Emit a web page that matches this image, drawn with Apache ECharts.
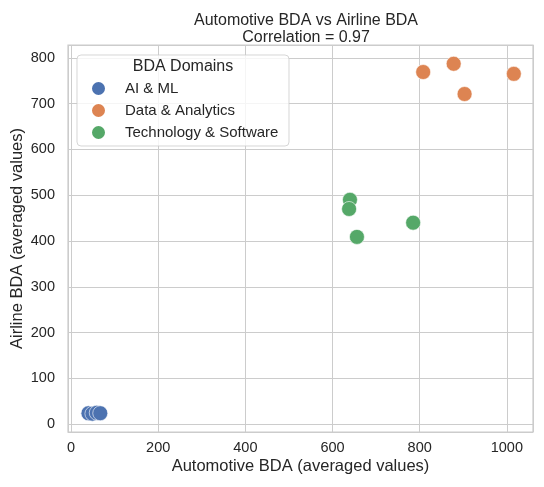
<!DOCTYPE html>
<html>
<head>
<meta charset="utf-8">
<title>Automotive BDA vs Airline BDA</title>
<script src="https://cdn.jsdelivr.net/npm/echarts@6/dist/echarts.min.js"></script>
<style>
	html,body{margin:0;padding:0;background:#fff;}
	#chart{width:544px;height:487px;}
</style>
</head>
<body>
<div id="chart"></div>
<script>
	// domains
	var domains = ['AI & ML', 'Data & Analytics', 'Technology & Software'];
	var colors = ['#4C72B0', '#DD8452', '#55A868'];

	// automotive (x) / airline (y) per domain
	var aiX = [40, 49, 59, 67];
	var aiY = [24, 23, 25, 24];
	var dataX = [808, 878, 903, 1016];
	var dataY = [769, 787, 721, 765];
	var techX = [640, 638, 785, 656];
	var techY = [490, 470, 440, 409];

	var xTicks = [0, 200, 400, 600, 800, 1000];
	var yTicks = [0, 100, 200, 300, 400, 500, 600, 700, 800];

	function pairs(xs, ys){
		var out = [];
		for(var i=0;i<xs.length;i++){
			out.push([xs[i], ys[i]]);
		}
		return out;
	}

	var font = 'Liberation Sans, Arial, sans-serif';
	var txt = '#262626';

	var seriesX = [aiX, dataX, techX];
	var seriesY = [aiY, dataY, techY];
	var seriesData = [];
	for(var s=0;s<domains.length;s++){
		seriesData.push({
			name: domains[s],
			type: 'scatter',
			symbolSize: 15,
			data: pairs(seriesX[s], seriesY[s]),
			itemStyle: {color: colors[s], opacity: 1, borderColor: '#fff', borderWidth: 0.6},
			z: 3
		});
	}

	var myChart = echarts.init(document.getElementById('chart'));
	var option = {
		backgroundColor: '#fff',
		animation: false,
		title: {
			text: 'Automotive BDA vs Airline BDA\nCorrelation = 0.97',
			left: 301,
			top: 7,
			textAlign: 'center',
			textStyle: {fontFamily: font, fontSize: 16, fontWeight: 'normal', color: txt, lineHeight: 17}
		},
		grid: {
			left: 68, right: 11, top: 45, bottom: 55,
			outerBoundsMode: 'none',
			containLabel: false,
			show: true, borderColor: '#cccccc', borderWidth: 1.25, backgroundColor: '#fff'
		},
		legend: {
			data: domains,
			orient: 'vertical',
			left: 90,
			top: 80,
			padding: 0,
			itemWidth: 43,
			itemHeight: 15,
			itemGap: 5,
			icon: 'circle',
			textStyle: {fontFamily: font, fontSize: 15, color: txt},
			z: 10
		},
		graphic: [
			{
				type: 'rect',
				shape: {x: 77, y: 55, width: 212, height: 91, r: 4},
				style: {fill: 'rgba(255,255,255,0.8)', stroke: 'rgba(204,204,204,0.8)', lineWidth: 1},
				z: 5
			},
			{
				type: 'text',
				x: 183, y: 67,
				style: {text: 'BDA Domains', font: '16px ' + font, fill: txt, align: 'center', verticalAlign: 'middle'},
				z: 6
			}
		],
		xAxis: {
			type: 'value',
			min: -7, max: 1060,
			minInterval: 200, maxInterval: 200,
			name: 'Automotive BDA (averaged values)',
			nameLocation: 'middle',
			nameGap: 26,
			nameMoveOverlap: false,
			nameTextStyle: {fontFamily: font, fontSize: 16.5, color: txt},
			axisLine: {show: false},
			axisTick: {show: false},
			axisLabel: {
				margin: 8, fontFamily: font, fontSize: 14.5, color: txt,
				formatter: function(v){ return xTicks.indexOf(v) >= 0 ? String(v) : ''; }
			},
			splitLine: {show: true, lineStyle: {color: '#cccccc', width: 1}}
		},
		yAxis: {
			type: 'value',
			min: -17, max: 828,
			minInterval: 100, maxInterval: 100,
			name: 'Airline BDA (averaged values)',
			nameLocation: 'middle',
			nameGap: 42,
			nameMoveOverlap: false,
			nameTextStyle: {fontFamily: font, fontSize: 16.5, color: txt},
			axisLine: {show: false},
			axisTick: {show: false},
			axisLabel: {
				margin: 13, fontFamily: font, fontSize: 14.5, color: txt,
				formatter: function(v){ return yTicks.indexOf(v) >= 0 ? String(v) : ''; }
			},
			splitLine: {show: true, lineStyle: {color: '#cccccc', width: 1}}
		},
		series: seriesData
	};
	myChart.setOption(option);
</script>
</body>
</html>
